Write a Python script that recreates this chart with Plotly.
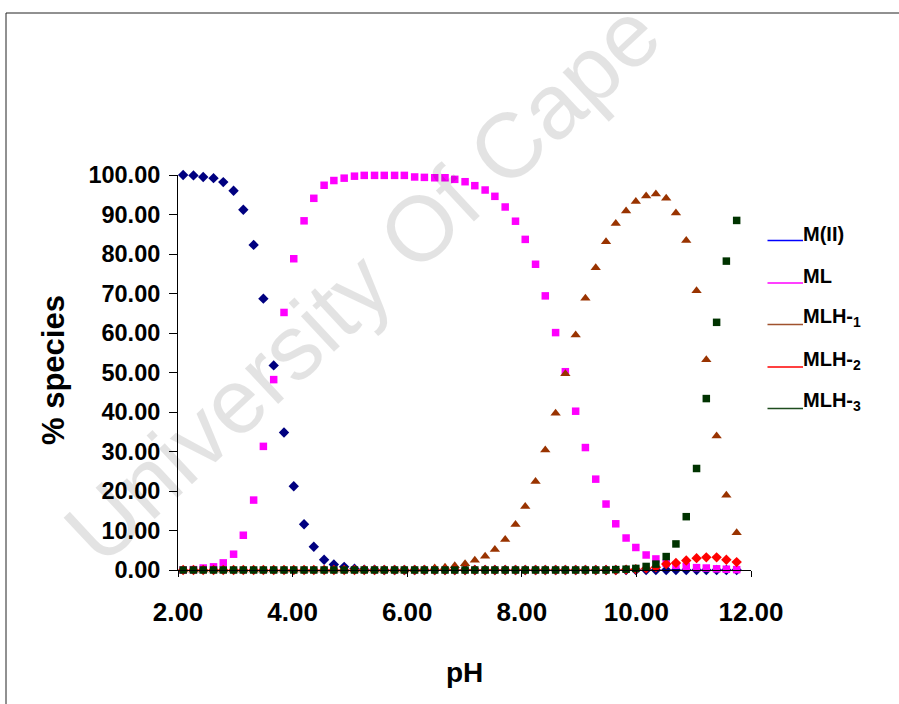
import plotly.graph_objects as go

# ---------------- data ----------------
ph = [2.09, 2.27, 2.44, 2.62, 2.79, 2.97, 3.14, 3.32, 3.49, 3.67, 3.85, 4.02, 4.20, 4.37,
      4.55, 4.72, 4.90, 5.08, 5.25, 5.43, 5.60, 5.78, 5.95, 6.13, 6.30, 6.48, 6.66, 6.83,
      7.01, 7.18, 7.36, 7.53, 7.71, 7.89, 8.06, 8.24, 8.41, 8.59, 8.76, 8.94, 9.11, 9.29,
      9.47, 9.64, 9.82, 9.99, 10.17, 10.34, 10.52, 10.69, 10.87, 11.05, 11.22, 11.40,
      11.57, 11.75]

m_ii = [100.0, 99.9, 99.5, 99.2, 98.2, 96.0, 91.2, 82.3, 68.7, 51.8, 34.8, 21.2, 11.6, 5.9,
        2.6, 1.4, 0.8, 0.3, 0.1, 0.05, 0, 0, 0, 0, 0, 0, 0, 0,
        0, 0, 0, 0, 0, 0, 0, 0, 0, 0, 0, 0, 0, 0,
        0, 0, 0, 0, 0, 0, 0, 0, 0, 0, 0, 0, 0, 0]

ml = [0.0, 0.1, 0.5, 0.8, 1.8, 4.0, 8.8, 17.7, 31.3, 48.2, 65.2, 78.8, 88.4, 94.1,
      97.4, 98.6, 99.2, 99.7, 99.9, 99.9, 99.9, 99.9, 99.9, 99.5, 99.4, 99.3, 99.3, 98.9,
      98.3, 97.3, 96.2, 94.6, 91.9, 88.3, 83.7, 77.4, 69.4, 60.1, 50.2, 40.2, 31.0, 23.0,
      16.7, 11.7, 8.1, 5.7, 3.8, 2.8, 1.7, 1.2, 0.9, 0.6, 0.5, 0.3, 0.2, 0.1]

mlh1 = [0, 0, 0, 0, 0, 0, 0, 0, 0, 0, 0, 0, 0, 0,
        0, 0, 0, 0, 0, 0, 0, 0, 0, 0.1, 0.2, 0.5, 0.7, 1.1,
        1.6, 2.5, 3.5, 5.2, 7.7, 11.5, 16.1, 22.4, 30.4, 39.7, 49.7, 59.5, 68.8, 76.5,
        83.1, 87.7, 90.9, 93.3, 94.7, 95.2, 94.1, 90.4, 83.4, 70.7, 53.2, 33.9, 18.9, 9.4]

mlh2 = [0, 0, 0, 0, 0, 0, 0, 0, 0, 0, 0, 0, 0, 0,
        0, 0, 0, 0, 0, 0, 0, 0, 0, 0, 0, 0, 0, 0,
        0, 0, 0, 0, 0, 0, 0, 0, 0, 0, 0, 0, 0, 0,
        0, 0, 0.1, 0.2, 0.4, 0.7, 1.5, 1.8, 2.4, 3.0, 3.2, 3.2, 2.6, 2.0]

mlh3 = [0, 0, 0, 0, 0, 0, 0, 0, 0, 0, 0, 0, 0, 0,
        0, 0, 0, 0, 0, 0, 0, 0, 0, 0, 0, 0, 0, 0,
        0, 0, 0, 0, 0, 0, 0, 0, 0, 0, 0, 0, 0, 0,
        0, 0.1, 0.2, 0.4, 0.9, 1.5, 3.4, 6.6, 13.5, 25.7, 43.4, 62.7, 78.2, 88.5]

series_names = ["M(II)", "ML", "MLH-<sub>1</sub>", "MLH-<sub>2</sub>", "MLH-<sub>3</sub>"]
x_ticks = [2, 4, 6, 8, 10, 12]
y_ticks = [0, 10, 20, 30, 40, 50, 60, 70, 80, 90, 100]

# ---------------- styling ----------------
FONT = "Liberation Sans, Arial, sans-serif"
W, H = 899, 704
L, R, T, B = 178, 148, 175, 134
PW, PH = W - L - R, H - T - B

def px_x(p):
    return (p - L) / PW

def px_y(p):
    return (H - B - p) / PH

series = [
    (m_ii, "diamond", "#000080", 8, "#0000FF"),
    (ml, "square", "#FF00FF", 7.5, "#FF00FF"),
    (mlh1, "triangle-up", "#993300", 9, "#A0522D"),
    (mlh2, "diamond", "#FF0000", 8, "#FF0000"),
    (mlh3, "square", "#003300", 7.5, "#1E4D1E"),
]

fig = go.Figure()
for (vals, sym, col, size, _), name in zip(series, series_names):
    fig.add_trace(go.Scatter(
        x=ph, y=vals, mode="markers", name=name, cliponaxis=False,
        marker=dict(symbol=sym, color=col, size=size, line=dict(width=0)),
        showlegend=False,
    ))

annotations = []
shapes = []

# custom legend (line + label)
leg_y = [240.5, 283, 324.5, 367, 408.5]
for (vals, sym, col, size, lcol), name, ly in zip(series, series_names, leg_y):
    shapes.append(dict(type="line", xref="paper", yref="paper",
                       x0=px_x(767.5), x1=px_x(803), y0=px_y(ly), y1=px_y(ly),
                       line=dict(color=lcol, width=1.6)))
    annotations.append(dict(text=name, xref="paper", yref="paper",
                            x=px_x(801), y=px_y(ly - 7), xanchor="left", yanchor="middle",
                            showarrow=False,
                            font=dict(family=FONT, size=20, color="black", weight="bold")))

# axis titles
annotations.append(dict(text="pH", xref="paper", yref="paper", x=px_x(464), y=px_y(672),
                        xanchor="center", yanchor="middle", showarrow=False,
                        font=dict(family=FONT, size=28, color="black", weight="bold")))
annotations.append(dict(text="% species", xref="paper", yref="paper", x=px_x(53), y=px_y(370),
                        xanchor="center", yanchor="middle", textangle=-90, showarrow=False,
                        font=dict(family=FONT, size=31, color="black", weight="bold")))

# watermark
annotations.append(dict(text="University Of Cape", xref="paper", yref="paper",
                        x=px_x(362), y=px_y(282), xanchor="center", yanchor="middle",
                        textangle=-43, showarrow=False,
                        font=dict(family=FONT, size=92, color="rgba(0,0,0,0.11)")))

# outer frame (top and left edges visible)
shapes.append(dict(type="line", xref="paper", yref="paper",
                   x0=px_x(6), x1=px_x(905), y0=px_y(13), y1=px_y(13),
                   line=dict(color="#222222", width=1)))
shapes.append(dict(type="line", xref="paper", yref="paper",
                   x0=px_x(6), x1=px_x(6), y0=px_y(13), y1=px_y(710),
                   line=dict(color="#222222", width=1)))

fig.update_layout(
    width=W, height=H,
    margin=dict(l=L, r=R, t=T, b=B, pad=0),
    paper_bgcolor="white", plot_bgcolor="white",
    showlegend=False,
    annotations=annotations,
    shapes=shapes,
    xaxis=dict(range=[2, 12], tickvals=x_ticks, tickformat=".2f",
               showline=True, linecolor="black", linewidth=1,
               ticks="outside", ticklen=6, tickcolor="black",
               showgrid=False, zeroline=False,
               tickfont=dict(family=FONT, size=26, color="black", weight="bold"),
               ticklabelstandoff=13),
    yaxis=dict(range=[0, 100], tickvals=y_ticks, tickformat=".2f",
               showline=True, linecolor="black", linewidth=1,
               ticks="outside", ticklen=8, tickcolor="black",
               showgrid=False, zeroline=False,
               tickfont=dict(family=FONT, size=23.5, color="black", weight="bold"),
               ticklabelstandoff=4),
)

fig.write_html("out.html")
